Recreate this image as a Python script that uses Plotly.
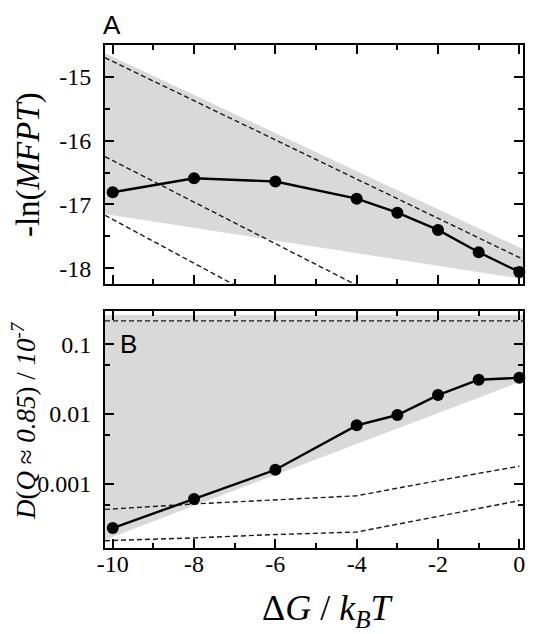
import plotly.graph_objects as go

# ---------------- data ----------------
dG = [-10, -8, -6, -4, -3, -2, -1, 0]
neg_ln_mfpt = [-16.81, -16.59, -16.64, -16.91, -17.13, -17.40, -17.75, -18.06]
D_vals = [2.35e-4, 6.1e-4, 1.6e-3, 6.9e-3, 9.7e-3, 0.0187, 0.031, 0.033]

# panel A shaded band (edges) and dashed reference lines
bandA_x = [-10.19, 0.09]
bandA_upper = [-14.63, -17.70]
bandA_lower = [-17.15, -18.17]
dashA1_x = [-10.19, 0.09]
dashA1_y = [-14.70, -17.86]
dashA2_x = [-10.19, -3.9]
dashA2_y = [-16.25, -18.30]
dashA3_x = [-10.19, -6.9]
dashA3_y = [-17.17, -18.30]

# panel B shaded band (edges) and dashed reference lines
bandB_x = [-10.19, 0.09]
bandB_upper = [0.26, 0.26]
bandB_lower = [1.6e-4, 0.030]
dashB_top_x = [-10.19, 0.09]
dashB_top_y = [0.215, 0.215]
dashB_x = [-10.19, -10, -8, -6, -4, -2, 0]
dashB_mid_y = [4.35e-4, 4.4e-4, 5.2e-4, 5.9e-4, 6.8e-4, 1.12e-3, 1.8e-3]
dashB_low_y = [1.55e-4, 1.56e-4, 1.7e-4, 1.9e-4, 2.06e-4, 3.45e-4, 5.8e-4]

x_ticks = [-10, -8, -6, -4, -2, 0]
x_ticklabels = ["-10", "-8", "-6", "-4", "-2", "0"]
yA_ticks = [-15, -16, -17, -18]
yA_ticklabels = ["-15", "-16", "-17", "-18"]
yB_ticks = [0.001, 0.01, 0.1]
yB_ticklabels = ["0.001", "0.01", "0.1"]
yB_minor = [0.0005, 0.005, 0.05]

# ---------------- styles ----------------
GRAY = "#d9d9d9"
SERIF = "Liberation Serif"
SANS = "Liberation Sans"
dash_style = dict(color="#1a1a1a", width=1.4, dash="5px,3px")
TICKFONT = dict(family=SERIF, size=24, color="black")

fig = go.Figure()

# Panel A
fig.add_trace(go.Scatter(x=bandA_x + bandA_x[::-1], y=bandA_upper + bandA_lower[::-1],
                         fill="toself", fillcolor=GRAY, line=dict(width=0), mode="lines",
                         xaxis="x", yaxis="y", hoverinfo="skip"))
for xs, ys in [(dashA1_x, dashA1_y), (dashA2_x, dashA2_y), (dashA3_x, dashA3_y)]:
    fig.add_trace(go.Scatter(x=xs, y=ys, mode="lines", line=dash_style, xaxis="x", yaxis="y"))
fig.add_trace(go.Scatter(x=dG, y=neg_ln_mfpt, mode="lines+markers",
                         line=dict(color="black", width=2.4),
                         marker=dict(color="black", size=12),
                         xaxis="x", yaxis="y", cliponaxis=False))

# Panel B
fig.add_trace(go.Scatter(x=bandB_x + bandB_x[::-1], y=bandB_upper + bandB_lower[::-1],
                         fill="toself", fillcolor=GRAY, line=dict(width=0), mode="lines",
                         xaxis="x2", yaxis="y2", hoverinfo="skip"))
fig.add_trace(go.Scatter(x=dashB_top_x, y=dashB_top_y, mode="lines", line=dash_style,
                         xaxis="x2", yaxis="y2"))
fig.add_trace(go.Scatter(x=dashB_x, y=dashB_mid_y, mode="lines", line=dash_style,
                         xaxis="x2", yaxis="y2"))
fig.add_trace(go.Scatter(x=dashB_x, y=dashB_low_y, mode="lines", line=dash_style,
                         xaxis="x2", yaxis="y2"))
fig.add_trace(go.Scatter(x=dG, y=D_vals, mode="lines+markers",
                         line=dict(color="black", width=2.4),
                         marker=dict(color="black", size=12),
                         xaxis="x2", yaxis="y2", cliponaxis=False))

axis_common = dict(showline=True, linecolor="black", linewidth=2, mirror="allticks",
                   ticks="inside", ticklen=9, tickwidth=1.5, tickcolor="black",
                   showgrid=False, zeroline=False, tickfont=TICKFONT)

X_RANGE = [-10.19, 0.09]
fig.update_layout(
    width=537, height=634,
    margin=dict(l=105, r=11.5, t=45, b=85.7),
    paper_bgcolor="white", plot_bgcolor="white",
    font=dict(family=SERIF, size=24, color="black"),
    showlegend=False,
    xaxis=dict(axis_common, domain=[0, 1], anchor="y", range=X_RANGE,
               tickvals=x_ticks, ticktext=x_ticklabels, showticklabels=False,
               minor=dict(dtick=1, tick0=0, ticks="inside", ticklen=5, tickwidth=1.5, tickcolor="black")),
    yaxis=dict(axis_common, domain=[0.5251, 1], anchor="x", range=[-18.246, -14.50],
               tickvals=yA_ticks, ticktext=yA_ticklabels, ticklabelstandoff=7,
               minor=dict(dtick=0.5, tick0=0, ticks="inside", ticklen=5, tickwidth=1.5, tickcolor="black")),
    xaxis2=dict(axis_common, domain=[0, 1], anchor="y2", range=X_RANGE,
                tickvals=x_ticks, ticktext=x_ticklabels, ticklabelstandoff=-7,
                minor=dict(dtick=1, tick0=0, ticks="inside", ticklen=5, tickwidth=1.5, tickcolor="black")),
    yaxis2=dict(axis_common, domain=[0, 0.4721], anchor="x2", type="log", range=[-3.914, -0.52],
                tickvals=yB_ticks, ticktext=yB_ticklabels, ticklabelstandoff=7,
                minor=dict(tickmode="array", tickvals=yB_minor, ticks="inside", ticklen=5,
                           tickwidth=1.5, tickcolor="black")),
)

PL, PW, PT, PH = 105, 420.5, 45, 503.3
def px(x):
    return (x - PL) / PW
def py(y):
    return 1 - (y - PT) / PH

annots = [
    dict(text="A", x=px(101), y=py(24.5), xanchor="left", yanchor="middle",
         font=dict(family=SANS, size=26, color="black")),
    dict(text="B", x=px(118.5), y=py(344.5), xanchor="left", yanchor="middle",
         font=dict(family=SANS, size=26, color="black")),
    dict(text="-ln(<i>MFPT</i>)", x=px(28), y=py(164.7), xanchor="center", yanchor="middle",
         textangle=-90, font=dict(family=SERIF, size=33, color="black")),
    dict(text="<i>D</i>(<i>Q</i> ≈ <i>0.85</i>) / <i>10<sup>-7</sup></i>", x=px(23), y=py(420.8),
         xanchor="center", yanchor="middle", textangle=-90,
         font=dict(family=SERIF, size=27, color="black")),
    dict(text="Δ<i>G</i> / <i>k</i><sub><i>B</i></sub><i>T</i>", x=px(329), y=py(611),
         xanchor="center", yanchor="middle", font=dict(family=SERIF, size=36, color="black")),
]
for a in annots:
    a.update(xref="paper", yref="paper", showarrow=False)
fig.update_layout(annotations=annots)

fig.write_html("out.html")
